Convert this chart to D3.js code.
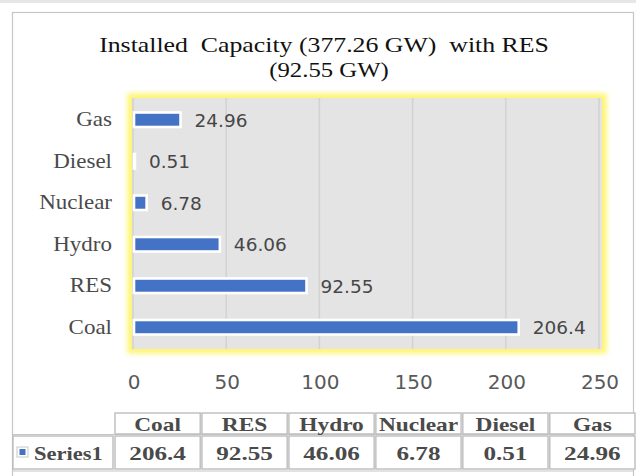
<!DOCTYPE html>
<html>
<head>
<meta charset="utf-8">
<script src="https://cdn.jsdelivr.net/npm/d3@7"></script>
<style>
  html, body { margin: 0; padding: 0; background: #fff; }
  svg { display: block; }
  text { white-space: pre; }
</style>
</head>
<body>
<svg id="chart" width="636" height="476"></svg>
<script>
const categories = ['Coal', 'RES', 'Hydro', 'Nuclear', 'Diesel', 'Gas'];
const values = [206.4, 92.55, 46.06, 6.78, 0.51, 24.96];
const valueLabels = ['206.4', '92.55', '46.06', '6.78', '0.51', '24.96'];
const xTicks = [0, 50, 100, 150, 200, 250];
const seriesName = 'Series1';
const titleLines = ['Installed  Capacity (377.26 GW)  with RES', '(92.55 GW)'];

const BLUE = '#4472c4';
const SERIF = '"Liberation Serif", "Times New Roman", serif';
const SANS = '"DejaVu Sans", sans-serif';

const svg = d3.select('#chart');
const data = categories.map((c, i) => ({ cat: c, v: values[i], label: valueLabels[i] }));

const plot = { left: 133, right: 599, top: 99, bottom: 348 };

const x = d3.scaleLinear().domain([0, 250]).range([plot.left, plot.right]);
const y = d3.scaleBand().domain([...categories].reverse())
  .range([plot.top, plot.bottom]).paddingInner(0.65).paddingOuter(0.325);

// stretched text helper (reference is horizontally widened)
function stext(g, tx, ty, sx, str) {
  return g.append('text')
    .attr('transform', `translate(${tx},${ty}) scale(${sx},1)`)
    .text(str);
}

// top strip + outer frame
svg.append('rect').attr('x', 0).attr('y', 0).attr('width', 636).attr('height', 3).attr('fill', '#e6e6e6');
svg.append('rect').attr('x', 12.5).attr('y', 12.5).attr('width', 621).attr('height', 480)
  .attr('fill', '#fff').attr('stroke', '#c6c6c6').attr('stroke-width', 1.2);

// title
const tg = svg.append('g').attr('font-family', SERIF).attr('font-size', 21.5).attr('fill', '#111')
  .attr('text-anchor', 'middle');
stext(tg, 324, 52, 1.2, titleLines[0]);
stext(tg, 329, 77, 1.15, titleLines[1]);

// glow behind plot area
const defs = svg.append('defs');
defs.append('filter').attr('id', 'glow').attr('x', '-20%').attr('y', '-20%').attr('width', '140%').attr('height', '140%')
  .append('feGaussianBlur').attr('stdDeviation', 2.6);

svg.append('rect')
  .attr('x', plot.left - 1).attr('y', plot.top - 1)
  .attr('width', plot.right - plot.left + 4).attr('height', plot.bottom - plot.top + 2)
  .attr('fill', 'none').attr('stroke', '#fff56e').attr('stroke-width', 9)
  .attr('filter', 'url(#glow)');

svg.append('rect')
  .attr('x', plot.left - 1).attr('y', plot.top - 1)
  .attr('width', plot.right - plot.left + 4).attr('height', plot.bottom - plot.top + 2)
  .attr('fill', '#e4e4e4');

// gridlines
svg.append('g').selectAll('line').data(xTicks).join('line')
  .attr('x1', d => x(d)).attr('x2', d => x(d))
  .attr('y1', plot.top - 1).attr('y2', plot.bottom + 1)
  .attr('stroke', '#d2d2d2').attr('stroke-width', 1.5);

// bars
svg.append('g').selectAll('rect').data(data).join('rect')
  .attr('x', x(0) + 1)
  .attr('y', d => y(d.cat))
  .attr('width', d => Math.max(0.5, x(d.v) - x(0)))
  .attr('height', y.bandwidth())
  .attr('fill', BLUE)
  .attr('stroke', '#fff').attr('stroke-width', 2.6);

// value labels
const vg = svg.append('g').attr('font-family', SANS).attr('font-size', 18.5).attr('fill', '#474747');
data.forEach(d => {
  stext(vg, x(d.v) + 15, y(d.cat) + y.bandwidth() / 2 + 6.8, 1.0, d.label);
});

// category labels
const cg = svg.append('g').attr('font-family', SERIF).attr('font-size', 20).attr('fill', '#4a4a4a')
  .attr('text-anchor', 'end');
data.forEach(d => {
  stext(cg, 112, y(d.cat) + y.bandwidth() / 2 + 6.5, 1.15, d.cat);
});

// x tick labels
const xg = svg.append('g').attr('font-family', SANS).attr('font-size', 20).attr('fill', '#595959')
  .attr('text-anchor', 'middle');
xTicks.forEach(t => stext(xg, x(t) + 1, 389, 1.0, String(t)));

// data table
const col = d3.scaleBand().domain(categories).range([115, 635]).paddingInner(0.02).paddingOuter(0);
const hdr = { top: 413, h: 21 };
const row = { top: 436, h: 33 };
const tbl = svg.append('g');

tbl.append('line').attr('x1', 12).attr('x2', 634).attr('y1', 434.5).attr('y2', 434.5)
  .attr('stroke', '#c6c6c6').attr('stroke-width', 1.2);
tbl.append('line').attr('x1', 12).attr('x2', 634).attr('y1', 471).attr('y2', 471)
  .attr('stroke', '#c6c6c6').attr('stroke-width', 1.2);

tbl.selectAll('rect.h').data(categories).join('rect').attr('class', 'h')
  .attr('x', d => col(d)).attr('y', hdr.top).attr('width', col.bandwidth()).attr('height', hdr.h)
  .attr('fill', '#fff').attr('stroke', '#bdbdbd').attr('stroke-width', 1.4);
tbl.selectAll('rect.d').data(categories).join('rect').attr('class', 'd')
  .attr('x', d => col(d)).attr('y', row.top).attr('width', col.bandwidth()).attr('height', row.h)
  .attr('fill', '#fff').attr('stroke', '#bdbdbd').attr('stroke-width', 1.4);
tbl.append('rect').attr('x', 13).attr('y', row.top).attr('width', 100).attr('height', row.h)
  .attr('fill', '#fff').attr('stroke', '#bdbdbd').attr('stroke-width', 1.4);

// legend key
tbl.append('rect').attr('x', 17).attr('y', 447).attr('width', 11).attr('height', 10)
  .attr('fill', '#fff').attr('stroke', '#c8c8c8').attr('stroke-width', 1);
tbl.append('rect').attr('x', 19.5).attr('y', 449).attr('width', 6).attr('height', 6).attr('fill', BLUE);

const tt = tbl.append('g').attr('font-family', SERIF).attr('font-weight', 'bold').attr('font-size', 18)
  .attr('fill', '#4a4a4a');
stext(tt, 34, 459.5, 1.25, seriesName);
const ttc = tt.append('g').attr('text-anchor', 'middle');
data.forEach(d => {
  stext(ttc, col(d.cat) + col.bandwidth() / 2, 430.5, 1.3, d.cat);
  stext(ttc, col(d.cat) + col.bandwidth() / 2, 459.5, 1.4, d.label);
});
</script>
</body>
</html>
